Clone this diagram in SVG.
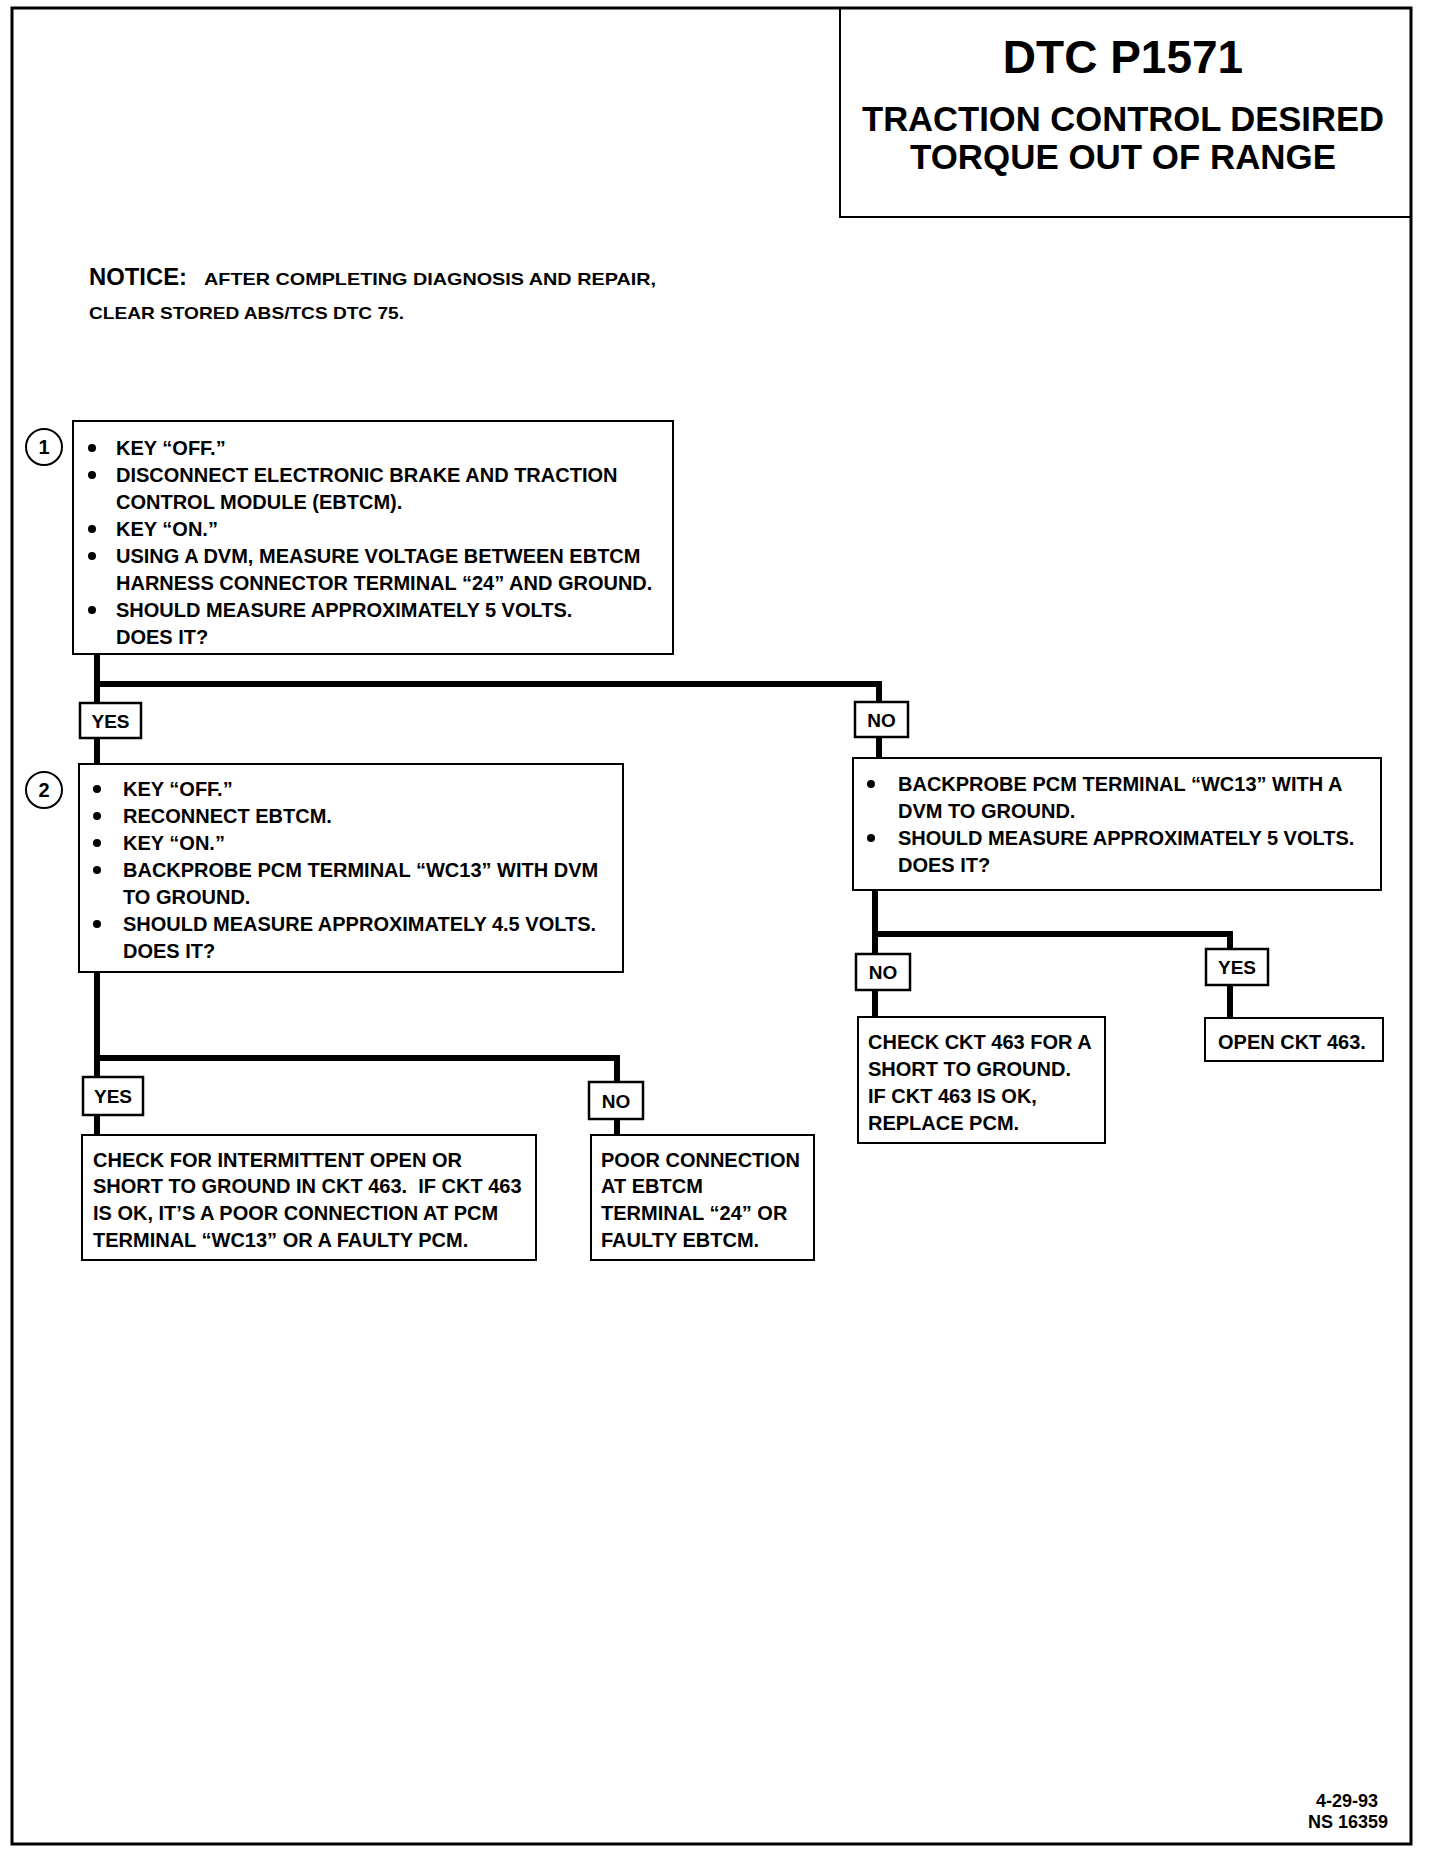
<svg xmlns="http://www.w3.org/2000/svg" width="1440" height="1852" viewBox="0 0 1440 1852">
<style>
.t{font-family:"Liberation Sans",Arial,sans-serif;font-weight:bold;fill:#000}
.b{font-size:20px}
.box{fill:#fff;stroke:#000;stroke-width:2}
.lab{fill:#fff;stroke:#000;stroke-width:2.5}
.ln{fill:none;stroke:#000;stroke-width:6}
.dot{fill:#000}
</style>
<rect x="0" y="0" width="1440" height="1852" fill="#fff"/>
<rect id="frame" x="12" y="8" width="1399" height="1836" fill="none" stroke="#000" stroke-width="3"/>
<g id="title">
<rect x="840" y="8" width="571" height="209" fill="none" stroke="#000" stroke-width="2"/>
<text class="t" x="1123" y="73" font-size="46" text-anchor="middle">DTC P1571</text>
<text class="t" x="1123" y="131" font-size="35" text-anchor="middle" textLength="522" lengthAdjust="spacingAndGlyphs">TRACTION CONTROL DESIRED</text>
<text class="t" x="1123" y="169" font-size="35" text-anchor="middle" textLength="426" lengthAdjust="spacingAndGlyphs">TORQUE OUT OF RANGE</text>
</g>
<g id="notice">
<text class="t" x="89" y="285" font-size="24" textLength="98" lengthAdjust="spacingAndGlyphs">NOTICE:</text>
<text class="t" x="204" y="285" font-size="17" textLength="452" lengthAdjust="spacingAndGlyphs">AFTER COMPLETING DIAGNOSIS AND REPAIR,</text>
<text class="t" x="89" y="319" font-size="17" textLength="315" lengthAdjust="spacingAndGlyphs">CLEAR STORED ABS/TCS DTC 75.</text>
</g>
<g id="connectors">
<polyline class="ln" points="97,654 97,684 879,684 879,758"/>
<line class="ln" x1="97" y1="684" x2="97" y2="764"/>
<polyline class="ln" points="875,890 875,934 1230,934 1230,1018"/>
<line class="ln" x1="875" y1="934" x2="875" y2="1017"/>
<polyline class="ln" points="97,972 97,1058 617,1058 617,1135"/>
<line class="ln" x1="97" y1="1058" x2="97" y2="1135"/>
</g>
<g id="step1">
<circle cx="44" cy="447" r="18" fill="#fff" stroke="#000" stroke-width="2"/>
<text class="t" x="44" y="454" font-size="20" text-anchor="middle">1</text>
<rect class="box" x="73" y="421" width="600" height="233"/>
<g class="t b">
<text x="116" y="455">KEY “OFF.”</text>
<text x="116" y="482">DISCONNECT ELECTRONIC BRAKE AND TRACTION</text>
<text x="116" y="509">CONTROL MODULE (EBTCM).</text>
<text x="116" y="536">KEY “ON.”</text>
<text x="116" y="563">USING A DVM, MEASURE VOLTAGE BETWEEN EBTCM</text>
<text x="116" y="590">HARNESS CONNECTOR TERMINAL “24” AND GROUND.</text>
<text x="116" y="617">SHOULD MEASURE APPROXIMATELY 5 VOLTS.</text>
<text x="116" y="644">DOES IT?</text>
</g>
<circle class="dot" cx="92" cy="448" r="4"/>
<circle class="dot" cx="92" cy="475" r="4"/>
<circle class="dot" cx="92" cy="529" r="4"/>
<circle class="dot" cx="92" cy="556" r="4"/>
<circle class="dot" cx="92" cy="610" r="4"/>
</g>
<g id="yes1">
<rect class="lab" x="80" y="703" width="61" height="35"/>
<text class="t" x="110.5" y="728" font-size="19" text-anchor="middle">YES</text>
</g>
<g id="no1">
<rect class="lab" x="855" y="702" width="53" height="35"/>
<text class="t" x="881.5" y="727" font-size="19" text-anchor="middle">NO</text>
</g>
<g id="step2">
<circle cx="44" cy="790" r="18" fill="#fff" stroke="#000" stroke-width="2"/>
<text class="t" x="44" y="797" font-size="20" text-anchor="middle">2</text>
<rect class="box" x="79" y="764" width="544" height="208"/>
<g class="t b">
<text x="123" y="796">KEY “OFF.”</text>
<text x="123" y="823">RECONNECT EBTCM.</text>
<text x="123" y="850">KEY “ON.”</text>
<text x="123" y="877">BACKPROBE PCM TERMINAL “WC13” WITH DVM</text>
<text x="123" y="904">TO GROUND.</text>
<text x="123" y="931">SHOULD MEASURE APPROXIMATELY 4.5 VOLTS.</text>
<text x="123" y="958">DOES IT?</text>
</g>
<circle class="dot" cx="97" cy="789" r="4"/>
<circle class="dot" cx="97" cy="816" r="4"/>
<circle class="dot" cx="97" cy="843" r="4"/>
<circle class="dot" cx="97" cy="870" r="4"/>
<circle class="dot" cx="97" cy="924" r="4"/>
</g>
<g id="step3">
<rect class="box" x="853" y="758" width="528" height="132"/>
<g class="t b">
<text x="898" y="791">BACKPROBE PCM TERMINAL “WC13” WITH A</text>
<text x="898" y="818">DVM TO GROUND.</text>
<text x="898" y="845">SHOULD MEASURE APPROXIMATELY 5 VOLTS.</text>
<text x="898" y="872">DOES IT?</text>
</g>
<circle class="dot" cx="871" cy="784" r="4"/>
<circle class="dot" cx="871" cy="838" r="4"/>
</g>
<g id="no3">
<rect class="lab" x="856" y="954" width="54" height="36"/>
<text class="t" x="883" y="979" font-size="19" text-anchor="middle">NO</text>
</g>
<g id="yes3">
<rect class="lab" x="1206" y="949" width="62" height="36"/>
<text class="t" x="1237" y="974" font-size="19" text-anchor="middle">YES</text>
</g>
<g id="shortgnd">
<rect class="box" x="858" y="1017" width="247" height="126"/>
<g class="t b">
<text x="868" y="1049">CHECK CKT 463 FOR A</text>
<text x="868" y="1076">SHORT TO GROUND.</text>
<text x="868" y="1103">IF CKT 463 IS OK,</text>
<text x="868" y="1130">REPLACE PCM.</text>
</g>
</g>
<g id="open463">
<rect class="box" x="1205" y="1018" width="178" height="43"/>
<text class="t b" x="1218" y="1049">OPEN CKT 463.</text>
</g>
<g id="yes2">
<rect class="lab" x="83" y="1077" width="60" height="38"/>
<text class="t" x="113" y="1103" font-size="19" text-anchor="middle">YES</text>
</g>
<g id="no2">
<rect class="lab" x="589" y="1082" width="54" height="37"/>
<text class="t" x="616" y="1108" font-size="19" text-anchor="middle">NO</text>
</g>
<g id="intermittent">
<rect class="box" x="82" y="1135" width="454" height="125"/>
<g class="t b">
<text x="93" y="1167">CHECK FOR INTERMITTENT OPEN OR</text>
<text x="93" y="1193">SHORT TO GROUND IN CKT 463.&#160; IF CKT 463</text>
<text x="93" y="1220">IS OK, IT’S A POOR CONNECTION AT PCM</text>
<text x="93" y="1247">TERMINAL “WC13” OR A FAULTY PCM.</text>
</g>
</g>
<g id="poorconn">
<rect class="box" x="591" y="1135" width="223" height="125"/>
<g class="t b">
<text x="601" y="1167">POOR CONNECTION</text>
<text x="601" y="1193">AT EBTCM</text>
<text x="601" y="1220">TERMINAL “24” OR</text>
<text x="601" y="1247">FAULTY EBTCM.</text>
</g>
</g>
<g id="footer">
<text class="t" x="1378" y="1807" font-size="18" text-anchor="end">4-29-93</text>
<text class="t" x="1388" y="1828" font-size="18" text-anchor="end">NS 16359</text>
</g>
</svg>
